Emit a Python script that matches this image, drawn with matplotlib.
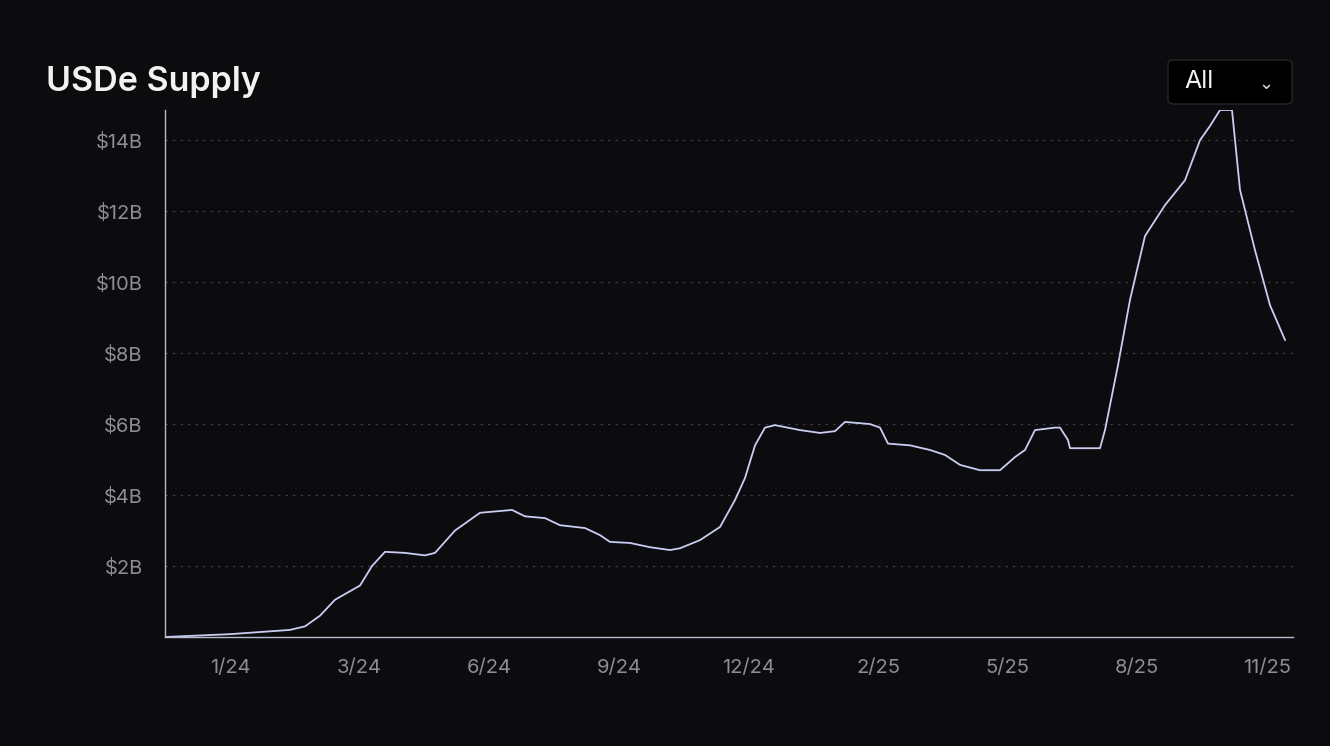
import matplotlib
matplotlib.use("Agg")
import matplotlib.pyplot as plt
from matplotlib.patches import FancyBboxPatch

plt.rcParams['font.family'] = ['Inter', 'DejaVu Sans']

tick_labels = ["1/24", "3/24", "6/24", "9/24", "12/24", "2/25", "5/25", "8/25", "11/25"]
px = [165,230,290,305,320,335,360,372,385,405,425,435,455,480,512,525,545,560,585,600,610,630,650,670,680,700,720,735,745,755,765,775,800,820,835,845,870,880,888,910,930,945,960,980,1000,1015,1025,1035,1055,1060,1068,1070,1100,1105,1118,1130,1145,1165,1185,1200,1210,1220,1232,1240,1255,1270,1285]
supply = [0,0.08,0.2,0.3,0.6,1.05,1.45,2.0,2.4,2.37,2.3,2.37,3.0,3.5,3.58,3.4,3.35,3.15,3.07,2.87,2.68,2.65,2.53,2.45,2.5,2.73,3.1,3.86,4.48,5.4,5.9,5.97,5.83,5.75,5.8,6.06,6.0,5.9,5.45,5.4,5.27,5.13,4.85,4.7,4.7,5.07,5.27,5.83,5.9,5.9,5.55,5.32,5.32,5.83,7.66,9.5,11.3,12.17,12.87,14.0,14.4,14.85,14.85,12.6,10.9,9.35,8.37]

x = [(p - 230) / 129.6 for p in px]

bg = "#0c0b0e"
fig = plt.figure(figsize=(13.3, 7.46), dpi=100, facecolor=bg)
ax = fig.add_axes([165/1330, 1-637/746, 1128/1330, 527/746], facecolor=bg)
ax.plot(x, supply, color="#c9cdf2", lw=1.3)
ax.set_xlim((165-230)/129.6, (1293-230)/129.6)
ax.set_ylim(0, 14.85)
ax.set_xticks(range(len(tick_labels)))
ax.set_xticklabels(tick_labels)
ax.set_yticks([2,4,6,8,10,12,14])
ax.set_yticklabels([f"${v}B" for v in [2,4,6,8,10,12,14]])
ax.tick_params(colors="#8d8d96", labelsize=14.5, length=0)
ax.tick_params(axis="x", pad=16)
ax.tick_params(axis="y", pad=16)
ax.grid(axis="y", color="#3a3a42", ls=(0,(2,4)), lw=0.9)
for s in ["top", "right"]:
    ax.spines[s].set_visible(False)
for s in ["left", "bottom"]:
    ax.spines[s].set_color("#b8bad0")
    ax.spines[s].set_linewidth(1)

fig.text(46/1330, 1-82/746, "USDe Supply", color="#f2f2f2", fontsize=24.5, fontweight="semibold", va="center")
box = FancyBboxPatch((1168/1330, 1-104/746), 124/1330, 44/746, boxstyle="round,pad=0,rounding_size=0.005",
                     transform=fig.transFigure, facecolor="#000000", edgecolor="#26262c", lw=1)
fig.patches.append(box)
fig.text(1184/1330, 1-82/746, "All", color="#f2f2f2", fontsize=18, va="center")
fig.text(1266/1330, 1-84/746, "⌄", color="#dddddd", fontsize=13, va="center", ha="center", family="DejaVu Sans")
fig.savefig("out.png", dpi=100, facecolor=bg)
